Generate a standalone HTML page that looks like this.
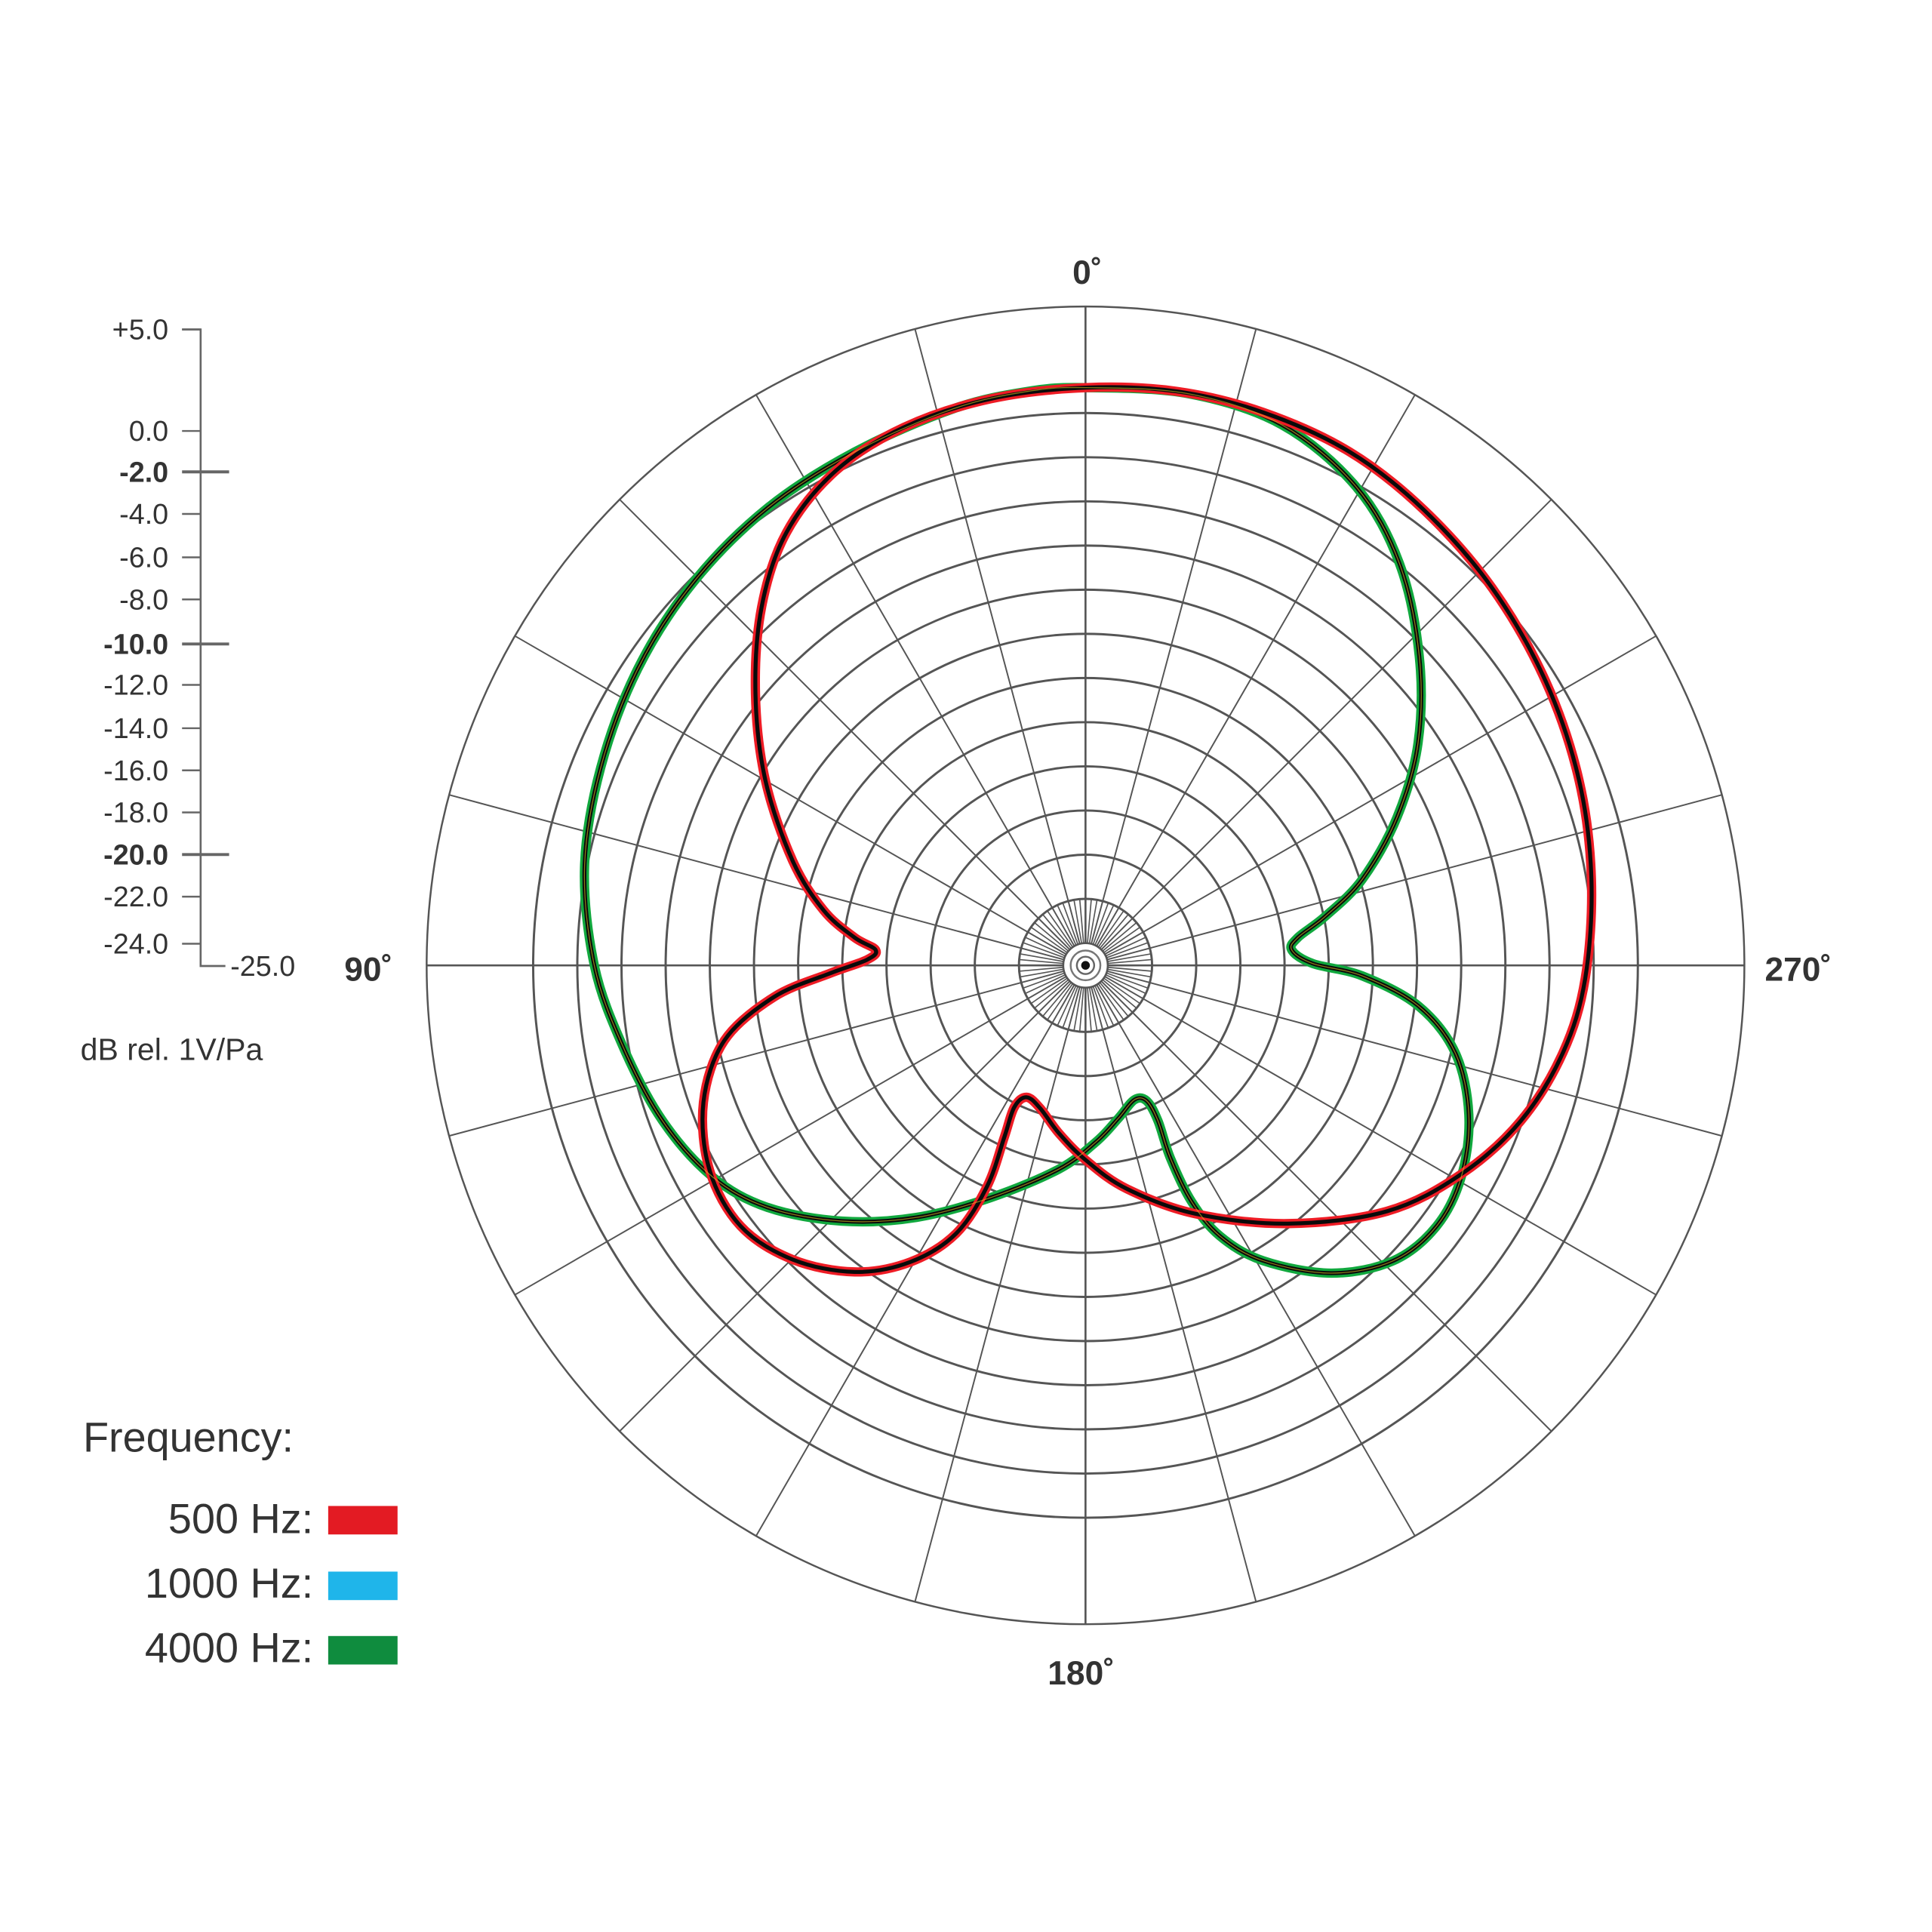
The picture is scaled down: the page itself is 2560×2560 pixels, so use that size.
<!DOCTYPE html>
<html><head><meta charset="utf-8"><style>
html,body{margin:0;padding:0;background:#fff;}
svg{display:block;}
text{font-family:"Liberation Sans","DejaVu Sans",sans-serif;fill:#333;}
</style></head><body>
<svg id="s" width="2560" height="2560" viewBox="0 0 1560 1560" xmlns="http://www.w3.org/2000/svg">
<rect width="1560" height="1560" fill="#fff"/>
<g id="grid" stroke="#555" fill="none"></g>
<g id="curves" fill="none" stroke-linejoin="round"></g>
<g stroke="#666" stroke-width="1.6" fill="none">
<polyline points="147,266 162,266 162,780 182,780"/>
</g>
<g id="ticks" stroke="#666"></g>
<g font-size="23" text-anchor="end" id="labs"></g>
<text x="186" y="788" font-size="23">-25.0</text>
<text x="278" y="792" font-size="27" font-weight="bold" fill="#222">90˚</text>
<text x="1425" y="792" font-size="27" font-weight="bold" fill="#222">270˚</text>
<text x="866" y="229" font-size="27" font-weight="bold" fill="#222">0˚</text>
<text x="846" y="1360" font-size="27" font-weight="bold" fill="#222">180˚</text>
<text x="65" y="856" font-size="25">dB rel. 1V/Pa</text>
<text x="67" y="1172" font-size="34">Frequency:</text>
<text x="253" y="1238" font-size="34" text-anchor="end">500 Hz:</text>
<text x="253" y="1290" font-size="34" text-anchor="end">1000 Hz:</text>
<text x="253" y="1342" font-size="34" text-anchor="end">4000 Hz:</text>
<rect x="265" y="1216" width="56" height="23" fill="#e31b23"/>
<rect x="265" y="1269" width="56" height="23" fill="#1fb5ea"/>
<rect x="265" y="1321" width="56" height="23" fill="#0f8c3e"/>
</svg>
<script>
const NS="http://www.w3.org/2000/svg";
const cx=876.5,cy=779.5;
function el(p,t,a){const e=document.createElementNS(NS,t);for(const k in a)e.setAttribute(k,a[k]);p.appendChild(e);return e;}
const g=document.getElementById('grid');
const r0=446,step=17.83;
el(g,'circle',{cx,cy,r:532,'stroke-width':1.5});
for(let d=0;d>=-22;d-=2){el(g,'circle',{cx,cy,r:r0+step*d,'stroke-width':1.8});}
el(g,'circle',{cx,cy,r:18,'stroke-width':1.6});
el(g,'circle',{cx,cy,r:12,'stroke-width':1.5,stroke:'#777'});
el(g,'circle',{cx,cy,r:7,'stroke-width':1.5,stroke:'#666'});
el(g,'circle',{cx,cy,r:3.5,fill:'#111',stroke:'none'});
for(let a=0;a<360;a+=15){const t=a*Math.PI/180;const ri=18,ro=532;
 el(g,'line',{x1:cx+ri*Math.sin(t),y1:cy-ri*Math.cos(t),x2:cx+ro*Math.sin(t),y2:cy-ro*Math.cos(t),'stroke-width':(a%90==0?1.6:1.2)});}
for(let a=0;a<360;a+=5){if(a%15==0)continue;const t=a*Math.PI/180;const ri=18,ro=54;
 el(g,'line',{x1:cx+ri*Math.sin(t),y1:cy-ri*Math.cos(t),x2:cx+ro*Math.sin(t),y2:cy-ro*Math.cos(t),'stroke-width':1});}
const tk=document.getElementById('ticks'),lb=document.getElementById('labs');
const vals=[["+5.0",266,0],["0.0",348,0],["-2.0",381,1],["-4.0",415,0],["-6.0",450,0],["-8.0",484,0],["-10.0",520,1],["-12.0",553,0],["-14.0",588,0],["-16.0",622,0],["-18.0",656,0],["-20.0",690,1],["-22.0",724,0],["-24.0",762,0]];
for(const [t,y,b] of vals){el(tk,'line',{x1:147,y1:y,x2:b?185:162,y2:y,'stroke-width':b?2.4:1.5});
 const e=el(lb,'text',{x:136,y:y+8});if(b){e.setAttribute('font-weight','bold');e.setAttribute('fill','#222');}e.textContent=t;}
function path(p){let s=`M${p[0][0]},${p[0][1]}`;const n=p.length;
 for(let i=0;i<n;i++){const p0=p[(i-1+n)%n],p1=p[i],p2=p[(i+1)%n],p3=p[(i+2)%n];
  s+=` C${p1[0]+(p2[0]-p0[0])/6},${p1[1]+(p2[1]-p0[1])/6} ${p2[0]-(p3[0]-p1[0])/6},${p2[1]-(p3[1]-p1[1])/6} ${p2[0]},${p2[1]}`;}
 return s+'Z';}
const green=[[877,313],[960,318],[1035,343],[1095,393],[1130,455],[1146,530],[1145,600],[1128,660],[1100,710],[1070,740],[1048,757],[1043,767],[1060,778],[1100,788],[1145,812],[1175,850],[1186,900],[1180,950],[1160,990],[1125,1018],[1075,1028],[1020,1018],[985,998],[962,970],[945,935],[935,905],[926,889],[916,888],[903,903],[885,922],[855,944],[800,967],[740,983],[680,986],[620,975],[575,950],[535,905],[503,845],[480,780],[472,700],[485,620],[515,540],[560,470],[620,410],[690,365],[770,330],[830,316]];
const red=[[877,313],[950,316],[1020,333],[1090,365],[1150,412],[1205,475],[1248,550],[1275,630],[1285,710],[1280,790],[1262,850],[1228,905],[1180,948],[1120,978],[1040,988],[965,980],[910,960],[877,937],[855,915],[840,895],[829,886],[819,894],[811,918],[797,958],[772,996],[735,1019],[690,1027],[640,1017],[598,990],[573,945],[568,890],[585,840],[625,805],[670,786],[700,775],[707,767],[690,757],[665,735],[640,695],[618,630],[610,560],[615,490],[635,430],[675,380],[730,345],[800,322]];
const c=document.getElementById('curves');
for(const [pts,col] of [[green,'#11a83e'],[red,'#ee1c25']]){const d=path(pts);
 el(c,'path',{d,stroke:col,'stroke-width':7.5});el(c,'path',{d,stroke:'#0a0a0a','stroke-width':3.2});}
el(c,'path',{d:path(green),stroke:'#d8c020','stroke-width':0.8,opacity:0.6});
</script>
</body></html>
